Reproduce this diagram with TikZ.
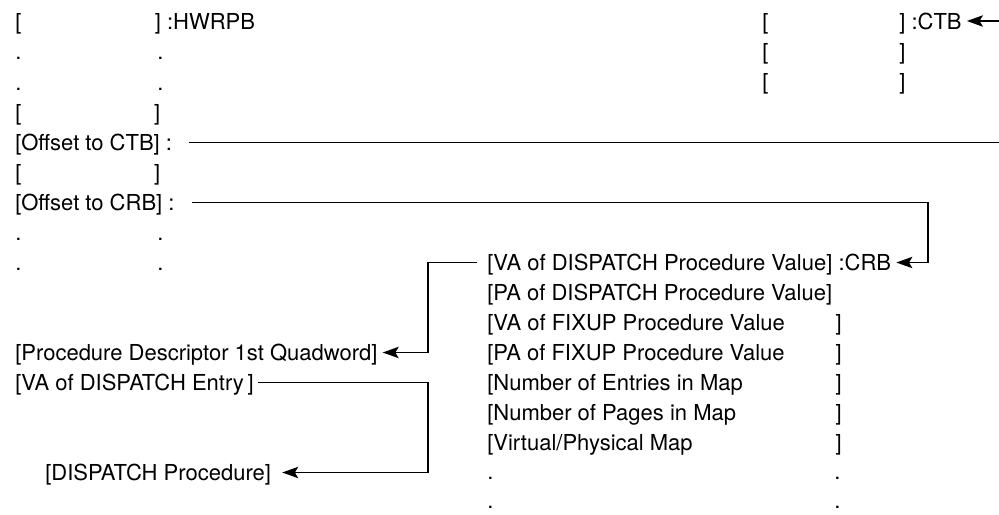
\documentclass[tikz,border=0pt]{standalone}
\usepackage{fontspec}
\setmainfont{TeX Gyre Heros}
\usetikzlibrary{arrows.meta,calc}
\begin{document}
\begin{tikzpicture}[x=0.75pt,y=-0.75pt,
  txt/.style={anchor=base west,inner sep=0pt,font=\fontsize{16.5}{20}\selectfont},
  txr/.style={anchor=base east,inner sep=0pt,font=\fontsize{16.5}{20}\selectfont},
  conn/.style={line width=1.1pt},
  arr/.style={line width=1.1pt,-{Stealth[length=12pt,width=8.5pt,inset=2.5pt]}}]
\useasboundingbox (0,0) rectangle (999,514);
% ---------- left column (HWRPB) ----------
\node[txt] (h0l) at (15,29) {[};
\node[txt] (h0r) at (154.5,29) {] :HWRPB};
\node[txt] (h1l) at (15,59.5) {.};
\node[txt] (h1r) at (157,59.5) {.};
\node[txt] (h2l) at (15,90) {.};
\node[txt] (h2r) at (157,90) {.};
\node[txt] (h3l) at (15,120.5) {[};
\node[txr] (h3r) at (160.5,120.5) {]};
\node[txt] (offctb) at (15,150.5) {[Offset to CTB] :};
\node[txt] (h5l) at (15,180.5) {[};
\node[txr] (h5r) at (160.5,180.5) {]};
\node[txt] (offcrb) at (15,210.5) {[Offset to CRB] :};
\node[txt] (h7l) at (15,240.5) {.};
\node[txt] (h7r) at (157,240.5) {.};
\node[txt] (h8l) at (15,270.5) {.};
\node[txt] (h8r) at (157,270.5) {.};
% ---------- CTB column ----------
\node[txt] (c0l) at (762,29) {[};
\node[txt] (c0r) at (899,29) {] :CTB};
\node[txt] (c1l) at (762,59) {[};
\node[txt] (c1r) at (899,59) {]};
\node[txt] (c2l) at (762,89) {[};
\node[txt] (c2r) at (899,89) {]};
% ---------- CRB column ----------
\node[txt] (r8) at (487,270.5) {[VA of DISPATCH Procedure Value] :CRB};
\node[txt] (r9) at (487,300.5) {[PA of DISPATCH Procedure Value]};
\node[txt] (r10) at (487,330.5) {[VA of FIXUP Procedure Value};
\node[txr] (r10r) at (842,330.5) {]};
\node[txt] (r11) at (487,360.5) {[PA of FIXUP Procedure Value};
\node[txr] (r11r) at (842,360.5) {]};
\node[txt] (r12) at (487,390.5) {[Number of Entries in Map};
\node[txr] (r12r) at (842,390.5) {]};
\node[txt] (r13) at (487,420.5) {[Number of Pages in Map};
\node[txr] (r13r) at (842,420.5) {]};
\node[txt] (r14) at (487,450.5) {[Virtual/Physical Map};
\node[txr] (r14r) at (842,450.5) {]};
\node[txt] (r15l) at (487,479.5) {.};
\node[txt] (r15r) at (834,479.5) {.};
\node[txt] (r16l) at (487,508.5) {.};
\node[txt] (r16r) at (834,508.5) {.};
% ---------- procedure descriptor ----------
\node[txt] (pdq) at (15,360.5) {[Procedure Descriptor 1st Quadword]};
\node[txt] (entry) at (15,390.5) {[VA of DISPATCH Entry\,]};
\node[txt] (dproc) at (45,480.5) {[DISPATCH Procedure]};
% ---------- connectors ----------
\coordinate (edge0) at (999,21);
\coordinate (edge4) at (999,142.5);
\coordinate (crbbus) at (928,262.5);
\coordinate (pdbus) at (428,352.5);
\coordinate (dpbus) at (428,472.5);
\draw[conn] ($(offctb.base east)+(17,-8)$) -- (edge4);
\draw[arr] (edge0) -- ($(c0r.base east)+(5,-8)$);
\draw[arr] ($(offcrb.base east)+(17,-8)$) -| (crbbus) -- ($(r8.base east)+(5,-8)$);
\draw[arr] ($(r8.base west)+(-10,-8)$) -| (pdbus) -- ($(pdq.base east)+(5,-8)$);
\draw[arr] ($(entry.base east)+(4,-8)$) -| (dpbus) -- ($(dproc.base east)+(11,-8)$);
\end{tikzpicture}
\end{document}
